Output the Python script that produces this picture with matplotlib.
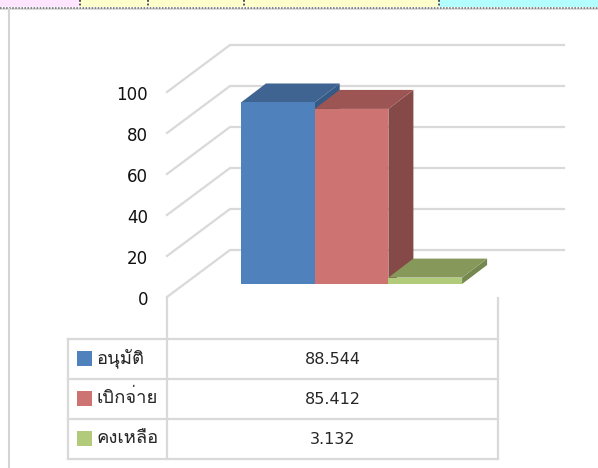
import matplotlib
matplotlib.use("Agg")
import matplotlib.pyplot as plt
from matplotlib import font_manager
from matplotlib.patches import Polygon, Rectangle

# which installed fonts can draw Thai
thai_fonts = []
for f in font_manager.fontManager.ttflist:
    try:
        cmap = font_manager.get_font(f.fname).get_charmap()
    except Exception:
        continue
    if 0x0E2D in cmap and f.name not in thai_fonts:
        thai_fonts.append(f.name)
plt.rcParams['font.family'] = ['DejaVu Sans'] + thai_fonts

categories = ["อนุมัติ", "เบิกจ่าย", "คงเหลือ"]
values = [88.544, 85.412, 3.132]
value_labels = ["88.544", "85.412", "3.132"]
y_ticks = [0, 20, 40, 60, 80, 100]

front_colors = ["#4F81BD", "#CD7371", "#B1CB7A"]
top_colors = ["#3F6491", "#9C5552", "#87995A"]
side_colors = ["#355A86", "#854A48", "#748850"]
grid_color = "#D9D9D9"

W, H = 598, 468
# pixel layout of the chart
floor_px = 284
bar_left_px = 241
bar_w_px = 73.7
px_per_unit = 2.05
depth_x_px, depth_y_px = 25, 19

fig = plt.figure(figsize=(W / 100, H / 100), dpi=100)

# background axes in pixels: page strip, frame, data table
bg = fig.add_axes([0, 0, 1, 1])
bg.set_xlim(0, W)
bg.set_ylim(H, 0)
bg.axis("off")

strip = [(0, 79, "#FFE5FF"), (80, 147, "#FFFFCC"), (148, 243, "#FFFFCC"),
         (244, 438, "#FFFFCC"), (439, 598, "#B3FFFF")]
for x0, x1, c in strip:
    bg.add_patch(Rectangle((x0, 0), x1 - x0, 7, fc=c, ec="none"))
for x0 in [79.5, 147.5, 243.5, 438.5]:
    bg.plot([x0, x0], [0, 7], color="#444444", lw=1.3, ls=(0, (1, 1)))
bg.plot([0, W], [9, 9], color="#D4D4D4", lw=1.2)
bg.plot([0, W], [7.5, 7.5], color="#666666", lw=1.1, ls=(0, (1, 1)))
bg.plot([9, 9], [9, H], color="#D4D4D4", lw=1.5)

# table
lw = 1.6
for y in [339, 379, 419, 459]:
    bg.plot([68, 498], [y, y], color=grid_color, lw=lw, solid_capstyle="projecting")
bg.plot([68, 68], [339, 459], color=grid_color, lw=lw)
bg.plot([167, 167], [297, 459], color=grid_color, lw=lw)
bg.plot([498, 498], [298, 459], color=grid_color, lw=lw)
for i, name in enumerate(categories):
    yc = 359 + 40 * i
    bg.add_patch(Rectangle((77, yc - 8), 15, 15, fc=front_colors[i], ec="none"))
    bg.text(97, yc - 1, name, fontsize=13.3, color="#262626", va="center", ha="left")
    bg.text(332.5, yc, value_labels[i], fontsize=11.5, color="#262626", va="center", ha="center")

# chart axes: x in category slots, y in data values, same canvas
ax = fig.add_axes([0, 0, 1, 1])
ax.patch.set_alpha(0)
ax.axis("off")
ax.set_xlim(-bar_left_px / bar_w_px, (W - bar_left_px) / bar_w_px)
ax.set_ylim((floor_px - H) / px_per_unit, floor_px / px_per_unit)

dx = depth_x_px / bar_w_px
dy = depth_y_px / px_per_unit
wall_left = (167 - bar_left_px) / bar_w_px
wall_right = (564 - bar_left_px) / bar_w_px
front_drop = 13 / px_per_unit

# back wall gridlines with the diagonal on the side wall
for v in y_ticks:
    y0 = v - front_drop
    ax.plot([wall_left, wall_left + 63 / bar_w_px, wall_right],
            [y0, y0 + 47 / px_per_unit, y0 + 47 / px_per_unit],
            color=grid_color, lw=1.6, solid_joinstyle="miter")
    ax.text(wall_left - 19 / bar_w_px, y0 - 1.5, str(v), fontsize=12, color="#111111",
            ha="right", va="center")

for i, v in enumerate(values):
    x0, x1 = i, i + 1
    ax.add_patch(Polygon([(x1, 0), (x1 + dx, dy), (x1 + dx, v + dy), (x1, v)],
                         fc=side_colors[i], ec="none", zorder=3 + i))
    ax.add_patch(Polygon([(x0, v), (x0 + dx, v + dy), (x1 + dx, v + dy), (x1, v)],
                         fc=top_colors[i], ec="none", zorder=3 + i))
    ax.add_patch(Rectangle((x0, 0), 1, v, fc=front_colors[i], ec="none", zorder=3 + i))

fig.savefig("out.png", dpi=100)
